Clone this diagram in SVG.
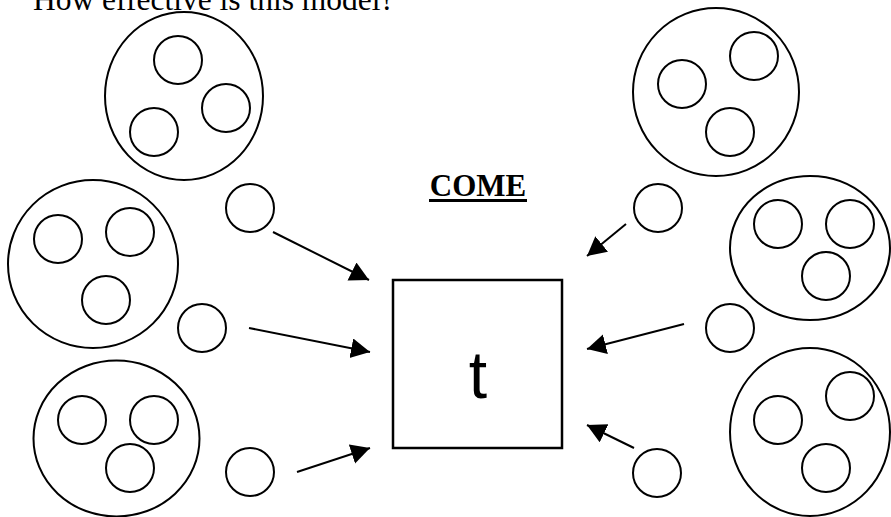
<svg xmlns="http://www.w3.org/2000/svg" width="891" height="517" viewBox="0 0 891 517">
<defs>
<style>
.c{fill:none;stroke:#000;stroke-width:2}
.b{fill:#fff;stroke:#000;stroke-width:2.5}
.a{fill:none;stroke:#000;stroke-width:2;marker-end:url(#ah)}
.t1{font-family:"Liberation Serif","Times New Roman",serif;font-size:31.5px;fill:#000}
.t2{font-family:"Liberation Serif","Times New Roman",serif;font-size:31px;font-weight:bold;fill:#000}
.t3{font-family:"Liberation Sans",Arial,sans-serif;font-size:66px;fill:#000}
</style>
<marker id="ah" markerUnits="userSpaceOnUse" markerWidth="20" markerHeight="21" refX="19" refY="10" orient="auto" viewBox="0 0 20 21">
<path d="M0,0 L19,10 L0,20 z" fill="#000"/>
</marker>
</defs>
<text class="t1" x="33" y="10">How effective is this model?</text>
<g id="title">
<text class="t2" x="478" y="196" text-anchor="middle">COME</text>
<rect x="429" y="199" width="98" height="3" fill="#000"/>
</g>
<g id="box">
<rect class="b" x="393" y="280" width="169" height="168"/>
<text class="t3" x="478" y="398" text-anchor="middle">t</text>
</g>
<g id="group-tl">
<ellipse class="c" cx="184" cy="96" rx="79" ry="84"/>
<circle class="c" cx="178" cy="60" r="24"/>
<circle class="c" cx="226" cy="108" r="24"/>
<circle class="c" cx="154" cy="132" r="24"/>
</g>
<g id="group-ml">
<ellipse class="c" cx="93" cy="264" rx="85" ry="84"/>
<circle class="c" cx="58" cy="239" r="24"/>
<circle class="c" cx="130" cy="232" r="24"/>
<circle class="c" cx="106" cy="300" r="24"/>
</g>
<g id="group-bl">
<ellipse class="c" cx="116.5" cy="438.5" rx="83" ry="78"/>
<circle class="c" cx="82" cy="420" r="24"/>
<circle class="c" cx="154" cy="420" r="24"/>
<circle class="c" cx="130" cy="468" r="24"/>
</g>
<g id="group-tr">
<ellipse class="c" cx="716" cy="92" rx="83" ry="84"/>
<circle class="c" cx="682" cy="84" r="24"/>
<circle class="c" cx="754" cy="56" r="24"/>
<circle class="c" cx="730" cy="132" r="24"/>
</g>
<g id="group-mr">
<ellipse class="c" cx="810" cy="248" rx="80" ry="72"/>
<circle class="c" cx="778" cy="224" r="24"/>
<circle class="c" cx="850" cy="224" r="24"/>
<circle class="c" cx="826" cy="276" r="24"/>
</g>
<g id="group-br">
<ellipse class="c" cx="810" cy="432" rx="80" ry="84"/>
<circle class="c" cx="778" cy="420" r="24"/>
<circle class="c" cx="850" cy="396" r="24"/>
<circle class="c" cx="826" cy="468" r="24"/>
</g>
<g id="single-tl"><circle class="c" cx="250" cy="208" r="24"/></g>
<g id="single-ml"><circle class="c" cx="202" cy="328" r="24"/></g>
<g id="single-bl"><circle class="c" cx="250" cy="472" r="24"/></g>
<g id="single-tr"><circle class="c" cx="658" cy="208" r="24"/></g>
<g id="single-mr"><circle class="c" cx="730" cy="328" r="24"/></g>
<g id="single-br"><circle class="c" cx="657" cy="473" r="24"/></g>
<g id="connectors">
<line class="a" x1="273" y1="232" x2="369" y2="280"/>
<line class="a" x1="249" y1="328" x2="370" y2="352"/>
<line class="a" x1="297" y1="472" x2="370" y2="448"/>
<line class="a" x1="626" y1="224" x2="587" y2="256"/>
<line class="a" x1="684" y1="324" x2="587" y2="349"/>
<line class="a" x1="634" y1="448" x2="587" y2="425"/>
</g>
</svg>
